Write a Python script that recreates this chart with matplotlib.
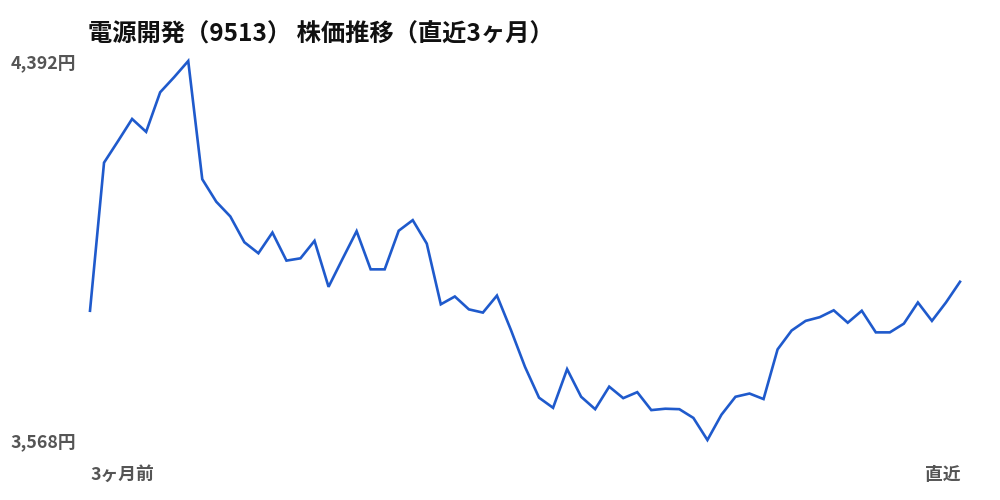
import matplotlib
matplotlib.use("Agg")
import matplotlib.pyplot as plt

plt.rcParams['font.family'] = ['Noto Sans CJK JP', 'DejaVu Sans']

title = "電源開発（9513） 株価推移（直近3ヶ月）"
y_top_label = "4,392円"
y_bottom_label = "3,568円"
x_start_label = "3ヶ月前"
x_end_label = "直近"

prices = [3849, 4171, 4218, 4266, 4238, 4324, 4357, 4392, 4135, 4086,
          4054, 3998, 3974, 4019, 3958, 3963, 4001, 3901, 3962, 4022,
          3939, 3939, 4023, 4046, 3995, 3863, 3880, 3852, 3845, 3882,
          3807, 3727, 3660, 3638, 3722, 3662, 3635, 3684, 3659, 3672,
          3633, 3636, 3635, 3616, 3568, 3623, 3662, 3669, 3657, 3765,
          3806, 3827, 3835, 3850, 3823, 3849, 3802, 3802, 3821, 3867,
          3827, 3867, 3912]
ymin, ymax = 3568, 4392

fig = plt.figure(figsize=(10, 5), dpi=100)
ax = fig.add_axes([0.09, 0.12, 0.87, 0.758])
x = list(range(len(prices)))
ax.plot(x, prices, color='#1f5acc', linewidth=1.9, clip_on=False,
        solid_joinstyle='miter')
ax.set_xlim(0, len(prices) - 1)
ax.set_ylim(ymin, ymax)
ax.axis('off')

gray = '#555555'
fs = 12.8
fig.text(0.076, 1 - 63 / 500, y_top_label, ha='right', va='center',
         fontsize=fs, fontweight='bold', color=gray)
fig.text(0.076, 1 - 442 / 500, y_bottom_label, ha='right', va='center',
         fontsize=fs, fontweight='bold', color=gray)
fig.text(0.09, 1 - 475 / 500, x_start_label, ha='left', va='center',
         fontsize=fs, fontweight='bold', color=gray)
fig.text(0.96, 1 - 475 / 500, x_end_label, ha='right', va='center',
         fontsize=fs, fontweight='bold', color=gray)
fig.text(0.088, 1 - 35 / 500, title, ha='left', va='center',
         fontsize=17.5, fontweight='bold', color='#111111')

fig.savefig('out.png', dpi=100, facecolor='white')
